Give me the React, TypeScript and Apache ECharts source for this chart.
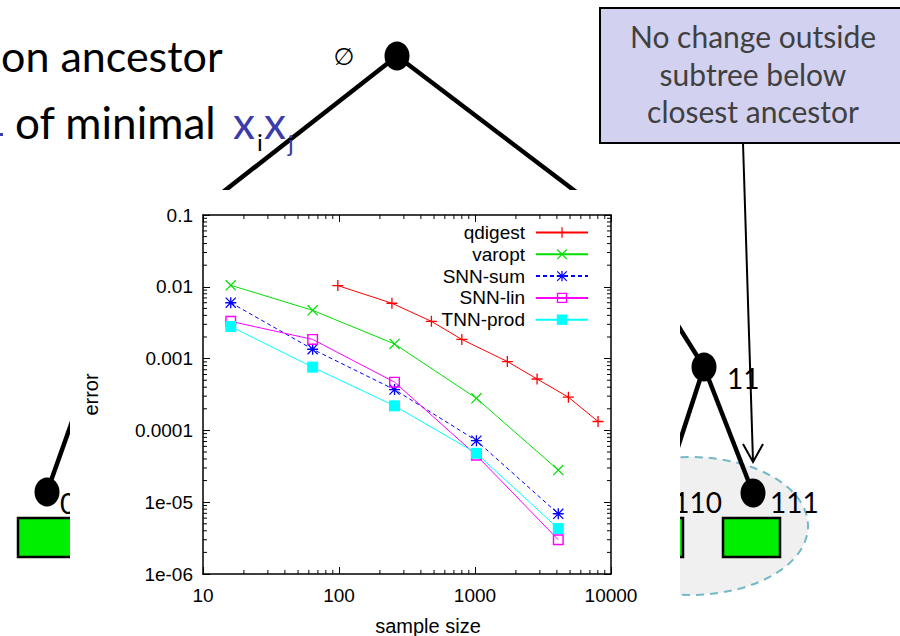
import React, { useEffect, useRef } from 'react';
import * as echarts from 'echarts';

// ---- data ----
const sampleSizes = [16, 64, 256, 1024, 4096];
const qdigestSizes = [98, 245, 478, 800, 1730, 2860, 4860, 8030];
const qdigestError = [0.0104, 0.0059, 0.0033, 0.00185, 0.00091, 0.00052, 0.00029, 0.000133];
const varoptError = [0.0105, 0.0047, 0.0016, 0.00028, 0.000028];
const snnSumError = [0.006, 0.00135, 0.00037, 0.000072, 0.0000069];
const snnLinError = [0.0033, 0.00185, 0.00047, 0.000045, 0.000003];
const tnnProdError = [0.0028, 0.00076, 0.00022, 0.000048, 0.0000043];

const seriesNames = ['qdigest', 'varopt', 'SNN-sum', 'SNN-lin', 'TNN-prod'];
const xTickLabels = ['10', '100', '1000', '10000'];
const yTickLabels = ['1e-06', '1e-05', '0.0001', '0.001', '0.01', '0.1'];

const X_MIN = 10, X_MAX = 10000, Y_MIN = 1e-6, Y_MAX = 0.1;
const xDecades = [10, 100, 1000];
const yDecades = [1e-6, 1e-5, 1e-4, 1e-3, 1e-2];
const minorMultipliers = [2, 3, 4, 5, 6, 7, 8, 9];

const PLUS = 'path://M0,4.4H10V5.6H0Z M4.4,0H5.6V10H4.4Z';
const CROSS = 'path://M0,0.8L0.8,0L10,9.2L9.2,10Z M9.2,0L10,0.8L0.8,10L0,9.2Z';
const STAR = 'path://M0,4.4H10V5.6H0Z M4.4,0H5.6V10H4.4Z M0,0.8L0.8,0L10,9.2L9.2,10Z M9.2,0L10,0.8L0.8,10L0,9.2Z';
const OPEN_SQ = 'path://M0,0H10V10H0Z M1.3,1.3V8.7H8.7V1.3Z';

const CF = 'Liberation Sans';
const SF = 'Lato';

function slideGraphics(): any[] {
  const black = '#000';
  const node = (cx: number, cy: number) => ({ type: 'ellipse', z: 0, shape: { cx, cy, rx: 12.5, ry: 14.5 }, style: { fill: black } });
  const edge = (x1: number, y1: number, x2: number, y2: number) => ({ type: 'line', z: 0, shape: { x1, y1, x2, y2 }, style: { stroke: black, lineWidth: 4.5 } });
  const box = (x: number) => ({ type: 'rect', z: 0, shape: { x, y: 518, width: 57, height: 39 }, style: { fill: '#00ee00', stroke: black, lineWidth: 2.5 } });
  const label = (text: string, x: number, base: number, size: number, align: string, fill = black, family = SF) => ({
    type: 'text', z: 0,
    style: { text, x, y: base - 0.37 * size, fontFamily: family, fontSize: size, fill, align, verticalAlign: 'middle' },
  });
  const blue = '#3b3baa';
  return [
    { type: 'ellipse', z: 0, shape: { cx: 690, cy: 526, rx: 118, ry: 69 }, style: { fill: '#f0f0f0', stroke: '#74b9c6', lineWidth: 2, lineDash: [8, 6] } },
    edge(397, 56, 200, 210),
    edge(397, 56, 600, 210),
    edge(660, 297, 704, 367),
    edge(704, 367, 663, 493),
    edge(704, 367, 753, 493),
    edge(47, 492, 85, 385),
    node(397, 56), node(704, 367), node(753, 493), node(47, 492), node(663, 493),
    box(18), box(626), box(723),
    label('0', 60, 513, 28, 'left'),
    label('110', 722, 512, 28, 'right'),
    label('111', 770, 512, 28, 'left'),
    label('11', 727, 388, 28, 'left'),
    { type: 'text', z: 0, style: { text: '∅', x: 344, y: 57, fontFamily: 'DejaVu Sans', fontSize: 24, fill: black, align: 'center', verticalAlign: 'middle' } },
    { type: 'line', z: 0, shape: { x1: 743, y1: 143, x2: 753, y2: 461 }, style: { stroke: black, lineWidth: 2 } },
    { type: 'polyline', z: 0, shape: { points: [[743, 444], [753, 462], [763, 444]] }, style: { stroke: black, lineWidth: 2, fill: null } },
    { type: 'rect', z: 0, shape: { x: 600, y: 8, width: 310, height: 135 }, style: { fill: '#d2d2f0', stroke: black, lineWidth: 2 } },
    label('No change outside', 753, 47, 30, 'center', '#404040'),
    label('subtree below', 753, 85, 30, 'center', '#404040'),
    label('closest ancestor', 753, 122, 30, 'center', '#404040'),
    label('on ancestor', 1, 71, 43, 'left'),
    label('of minimal', 15, 138, 44, 'left'),
    { type: 'rect', z: 0, shape: { x: 0, y: 133, width: 3, height: 3 }, style: { fill: blue } },
    label('x', 233, 138, 44, 'left', blue),
    label('i', 257, 150, 24, 'left', black),
    label('x', 264, 138, 44, 'left', blue),
    label('j', 288, 151, 24, 'left', blue),
    { type: 'rect', z: 1, shape: { x: 70, y: 190, width: 610, height: 446 }, style: { fill: '#fff' } },
  ];
}

function expIndex(v: number) {
  return Math.round(Math.log10(v));
}

export default function App() {
  const ref = useRef<HTMLDivElement>(null);
  useEffect(() => {
    if (!ref.current) return;
    const chart = echarts.init(ref.current, undefined, { renderer: 'svg' });
    const axisCommon = {
      type: 'log', logBase: 10, z: 5,
      axisLine: { show: true, lineStyle: { color: '#000', width: 1.5 } },
      axisTick: { show: true, inside: true, length: 7, lineStyle: { color: '#000', width: 1 } },
      splitLine: { show: false },
      minorTick: { show: false },
    };
    const mk = (name: string, x: number[], y: number[], color: string, symbol: string, size: number, lineType: any = 'solid') => ({
      name, type: 'line', z: 6, silent: true,
      data: x.map((v, i) => [v, y[i]]),
      symbol, symbolSize: size,
      lineStyle: { color, width: 1, type: lineType },
      itemStyle: { color, borderWidth: 0 },
      emphasis: { disabled: true },
    });
    const xMinor: number[] = [];
    xDecades.forEach((d) => minorMultipliers.forEach((m) => xMinor.push(m * d)));
    const yMinor: number[] = [];
    yDecades.forEach((d) => minorMultipliers.forEach((m) => yMinor.push(m * d)));

    const option: any = {
      animation: false,
      backgroundColor: '#fff',
      graphic: { elements: slideGraphics() },
      grid: { left: 203, top: 215, right: 289, bottom: 62, show: false, containLabel: false, outerBoundsMode: 'none' },
      xAxis: [
        {
          ...axisCommon, position: 'bottom', min: X_MIN, max: X_MAX,
          name: 'sample size', nameLocation: 'middle', nameGap: 42,
          nameTextStyle: { fontFamily: CF, fontSize: 20, color: '#000', padding: [0, 0, 0, 42] },
          axisLabel: { margin: 12, fontFamily: CF, fontSize: 19, color: '#000', formatter: (v: number) => xTickLabels[expIndex(v) - 1] },
        },
        { ...axisCommon, position: 'top', min: X_MIN, max: X_MAX, axisLabel: { show: false } },
      ],
      yAxis: [
        {
          ...axisCommon, position: 'left', min: Y_MIN, max: Y_MAX,
          name: 'error', nameLocation: 'middle', nameGap: 102, nameRotate: 90,
          nameTextStyle: { fontFamily: CF, fontSize: 20, color: '#000' },
          axisLabel: { margin: 10, fontFamily: CF, fontSize: 19, color: '#000', formatter: (v: number) => yTickLabels[expIndex(v) + 6] },
        },
        { ...axisCommon, position: 'right', min: Y_MIN, max: Y_MAX, axisLabel: { show: false } },
      ],
      legend: {
        data: seriesNames, orient: 'vertical', align: 'right', right: 311, top: 223, padding: 0,
        itemWidth: 52, itemHeight: 13, itemGap: 2.8, selectedMode: false,
        textStyle: { fontFamily: CF, fontSize: 19, color: '#000', lineHeight: 18, padding: [0, 6, 0, 0] },
      },
      series: [
        mk(seriesNames[0], qdigestSizes, qdigestError, '#ff0000', PLUS, 11),
        mk(seriesNames[1], sampleSizes, varoptError, '#00e000', CROSS, 11),
        mk(seriesNames[2], sampleSizes, snnSumError, '#0000ff', STAR, 11, [4, 3]),
        mk(seriesNames[3], sampleSizes, snnLinError, '#ff00ff', OPEN_SQ, 11),
        mk(seriesNames[4], sampleSizes, tnnProdError, '#00ffff', 'rect', 11),
        {
          type: 'custom', z: 5, silent: true, clip: false,
          data: xMinor.map((v) => [v, Y_MIN]),
          renderItem: (_p: any, api: any) => {
            const v = api.value(0);
            const b = api.coord([v, Y_MIN]);
            const t = api.coord([v, Y_MAX]);
            return {
              type: 'group', children: [
                { type: 'line', shape: { x1: b[0], y1: b[1], x2: b[0], y2: b[1] - 4 }, style: { stroke: '#000', lineWidth: 1 } },
                { type: 'line', shape: { x1: t[0], y1: t[1], x2: t[0], y2: t[1] + 4 }, style: { stroke: '#000', lineWidth: 1 } },
              ],
            };
          },
        },
        {
          type: 'custom', z: 5, silent: true, clip: false,
          data: yMinor.map((v) => [X_MIN, v]),
          renderItem: (_p: any, api: any) => {
            const v = api.value(1);
            const l = api.coord([X_MIN, v]);
            const r = api.coord([X_MAX, v]);
            return {
              type: 'group', children: [
                { type: 'line', shape: { x1: l[0], y1: l[1], x2: l[0] + 4, y2: l[1] }, style: { stroke: '#000', lineWidth: 1 } },
                { type: 'line', shape: { x1: r[0], y1: r[1], x2: r[0] - 4, y2: r[1] }, style: { stroke: '#000', lineWidth: 1 } },
              ],
            };
          },
        },
      ],
    };
    chart.setOption(option);
    return () => chart.dispose();
  }, []);
  return <div ref={ref} style={{ width: 900, height: 636, position: 'absolute', left: 0, top: 0 }} />;
}
